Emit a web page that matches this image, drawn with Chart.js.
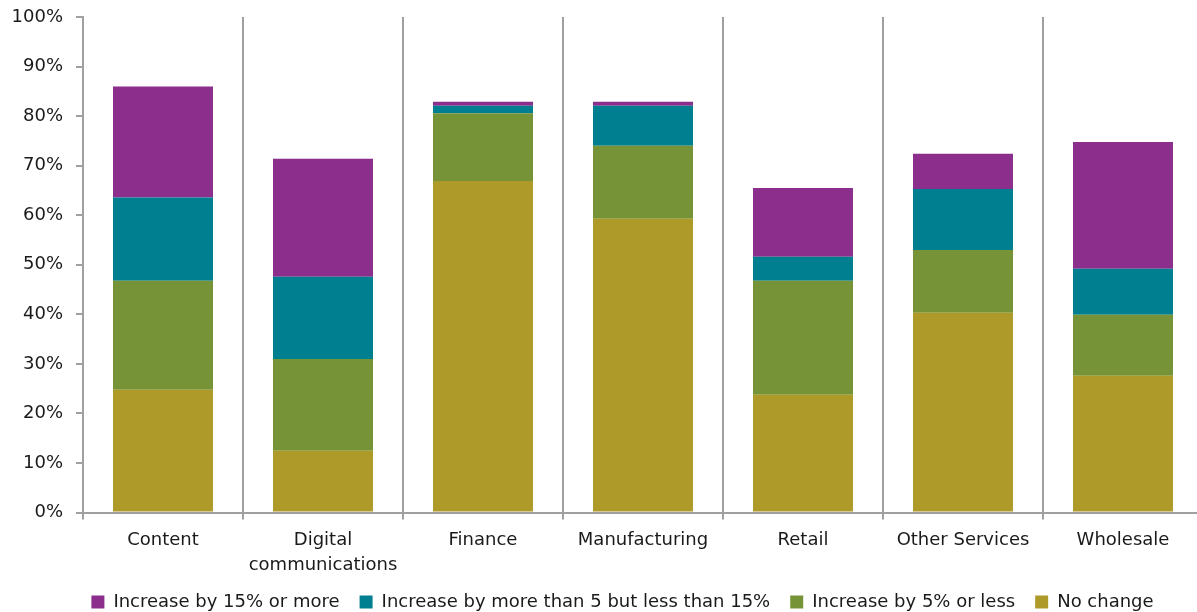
<!DOCTYPE html>
<html>
<head>
<meta charset="utf-8">
<script src="https://cdn.jsdelivr.net/npm/chart.js@4/dist/chart.umd.min.js"></script>
<style>
  html, body { margin: 0; padding: 0; background: #fff; overflow: hidden; }
  #wrap { width: 1207px; height: 612px; }
</style>
</head>
<body>
<div id="wrap"><canvas id="chart"></canvas></div>
<script>
const categories = ['Content', ['Digital', 'communications'], 'Finance', 'Manufacturing', 'Retail', 'Other Services', 'Wholesale']

// share of firms per sector, stacked from the bottom up
const noChange = [24.8, 12.5, 66.9, 59.3, 23.8, 40.3, 27.6]
const upTo5 = [22.0, 18.5, 13.7, 14.7, 23.0, 12.7, 12.3]
const from5to15 = [16.8, 16.6, 1.5, 8.1, 4.8, 12.3, 9.3]
const over15 = [22.4, 23.8, 0.8, 0.8, 13.9, 7.1, 25.6]

const yMax = 100
const yStep = 10

const font = { family: 'DejaVu Sans', size: 18 }

// move the legend row right of centre and tuck it up under the axis labels
const legendShift = {
    id: 'legendShift',
    afterLayout(chart) {
        const lg = chart.legend
        lg.left += 21
        lg.right += 21
        lg.top -= 13
        lg.bottom -= 13
    }
}

const ctx = document.getElementById('chart').getContext('2d')
new Chart(ctx, {
    type: 'bar',
    data: {
        labels: categories,
        datasets: [
            { label: 'No change', data: noChange, backgroundColor: '#ae9a29' },
            { label: 'Increase by 5% or less', data: upTo5, backgroundColor: '#779337' },
            { label: 'Increase by more than 5 but less than 15%', data: from5to15, backgroundColor: '#007f91' },
            { label: 'Increase by 15% or more', data: over15, backgroundColor: '#8b2e8c' }
        ]
    },
    plugins: [legendShift],
    options: {
        responsive: true,
        maintainAspectRatio: false,
        animation: false,
        layout: { padding: { left: 0, right: 4, top: 0, bottom: -22 } },
        datasets: {
            bar: { barPercentage: 0.625, categoryPercentage: 1, inflateAmount: 0 }
        },
        plugins: {
            tooltip: { enabled: false },
            legend: {
                position: 'bottom',
                reverse: true,
                labels: {
                    font: font,
                    color: '#1a1a1a',
                    boxWidth: 13,
                    boxHeight: 13,
                    padding: 20
                }
            }
        },
        scales: {
            x: {
                stacked: true,
                z: 1,
                grid: { offset: true, color: '#a0a0a0', lineWidth: 2, tickLength: 7 },
                border: { color: '#a0a0a0', width: 2 },
                ticks: { font: { ...font, lineHeight: 1.4 }, color: '#1a1a1a', maxRotation: 0, padding: 8 }
            },
            y: {
                stacked: true,
                min: 0,
                max: yMax,
                afterFit: (axis) => {
                    axis.width = 83
                    axis.paddingTop = 17
                    axis.paddingBottom = 0
                },
                grid: { drawOnChartArea: false, color: '#a0a0a0', lineWidth: 2, tickLength: 7 },
                border: { color: '#a0a0a0', width: 2 },
                ticks: { stepSize: yStep, font: font, color: '#1a1a1a', padding: 13, callback: (v) => v + '%' }
            }
        }
    }
})
</script>
</body>
</html>
